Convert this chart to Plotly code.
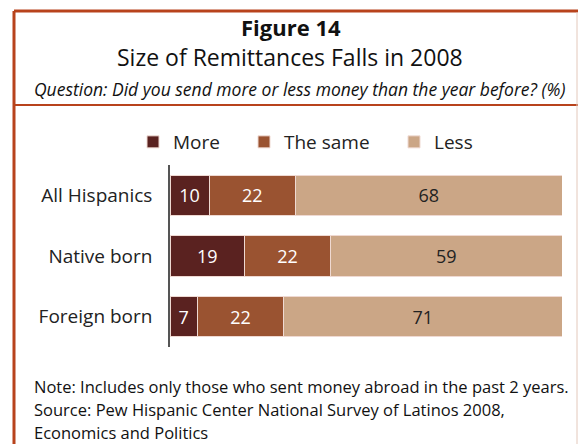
import plotly.graph_objects as go

# Survey groups and answer shares (%)
groups = ["All Hispanics", "Native born", "Foreign born"]
series_names = ["More", "The same", "Less"]
more = [10, 19, 7]
same = [22, 22, 22]
less = [68, 59, 71]

colors = ["#5a2220", "#9a5331", "#cba686"]
text_colors = ["#ffffff", "#ffffff", "#222222"]
legend_widths = [66, 105, 40]

W, H = 578, 444
FONT = "Open Sans"


def px_x(x):
    return x / W


def px_y(y):
    return 1 - y / H


fig = go.Figure()
for name, vals, col, tcol, lw in zip(series_names, [more, same, less], colors, text_colors, legend_widths):
    fig.add_trace(go.Bar(
        name=name,
        y=groups,
        x=vals,
        orientation="h",
        marker=dict(color=col, line=dict(color="#efd9d2", width=1)),
        text=vals,
        texttemplate="%{x}",
        textposition="inside",
        insidetextanchor="middle",
        textangle=0,
        textfont=dict(family=FONT, size=18, color=tcol),
        legendwidth=lw,
        hoverinfo="skip",
    ))

fig.update_layout(
    width=W,
    height=H,
    barmode="stack",
    bargap=0.34,
    paper_bgcolor="white",
    plot_bgcolor="white",
    margin=dict(l=0, r=0, t=0, b=0),
    font=dict(family=FONT, color="#222222"),
    showlegend=True,
    legend=dict(
        orientation="h",
        x=px_x(133), xanchor="left",
        y=px_y(142), yanchor="middle",
        font=dict(family=FONT, size=19, color="#222222"),
        bgcolor="rgba(0,0,0,0)",
        itemclick=False,
        traceorder="normal",
    ),
    xaxis=dict(
        domain=[px_x(170), px_x(562)],
        range=[0, 100],
        showgrid=False, zeroline=False, showticklabels=False,
        ticks="", showline=False, fixedrange=True,
    ),
    yaxis=dict(
        domain=[px_y(347), px_y(165)],
        autorange="reversed",
        showgrid=False, zeroline=False,
        showline=True, linecolor="#555555", linewidth=1.5,
        ticks="", ticklabelstandoff=12,
        tickfont=dict(family=FONT, size=19, color="#222222"),
        fixedrange=True,
    ),
)

# Frame around the figure
border = "#b8431c"
fig.add_shape(type="line", xref="paper", yref="paper",
              x0=px_x(14), x1=1, y0=px_y(11), y1=px_y(11),
              line=dict(color=border, width=3))
fig.add_shape(type="line", xref="paper", yref="paper",
              x0=px_x(14), x1=px_x(14), y0=px_y(11), y1=0,
              line=dict(color=border, width=3))
fig.add_shape(type="line", xref="paper", yref="paper",
              x0=px_x(14), x1=1, y0=px_y(105), y1=px_y(105),
              line=dict(color=border, width=2))
fig.add_shape(type="line", xref="paper", yref="paper",
              x0=px_x(577), x1=px_x(577), y0=px_y(12), y1=0,
              line=dict(color="#e3c8bb", width=1))

# Titles
fig.add_annotation(text="<b>Figure 14</b>", xref="paper", yref="paper",
                   x=px_x(291), y=px_y(27), xanchor="center", yanchor="middle",
                   showarrow=False, font=dict(family=FONT, size=22, color="#111111"))
fig.add_annotation(text="Size of Remittances Falls in 2008", xref="paper", yref="paper",
                   x=px_x(290), y=px_y(57), xanchor="center", yanchor="middle",
                   showarrow=False, font=dict(family=FONT, size=23, color="#111111"))
fig.add_annotation(text="<i>Question: Did you send more or less money than the year before? (%)</i>",
                   xref="paper", yref="paper",
                   x=px_x(299), y=px_y(89), xanchor="center", yanchor="middle",
                   showarrow=False, font=dict(family=FONT, size=17.5, color="#111111"))

# Notes
notes = [
    "Note: Includes only those who sent money abroad in the past 2 years.",
    "Source: Pew Hispanic Center National Survey of Latinos 2008,",
    "Economics and Politics",
]
for i, line in enumerate(notes):
    fig.add_annotation(text=line, xref="paper", yref="paper",
                       x=px_x(32), y=px_y(386 + 23 * i), xanchor="left", yanchor="middle",
                       showarrow=False, font=dict(family=FONT, size=16.5, color="#111111"))

fig.write_html("out.html")
